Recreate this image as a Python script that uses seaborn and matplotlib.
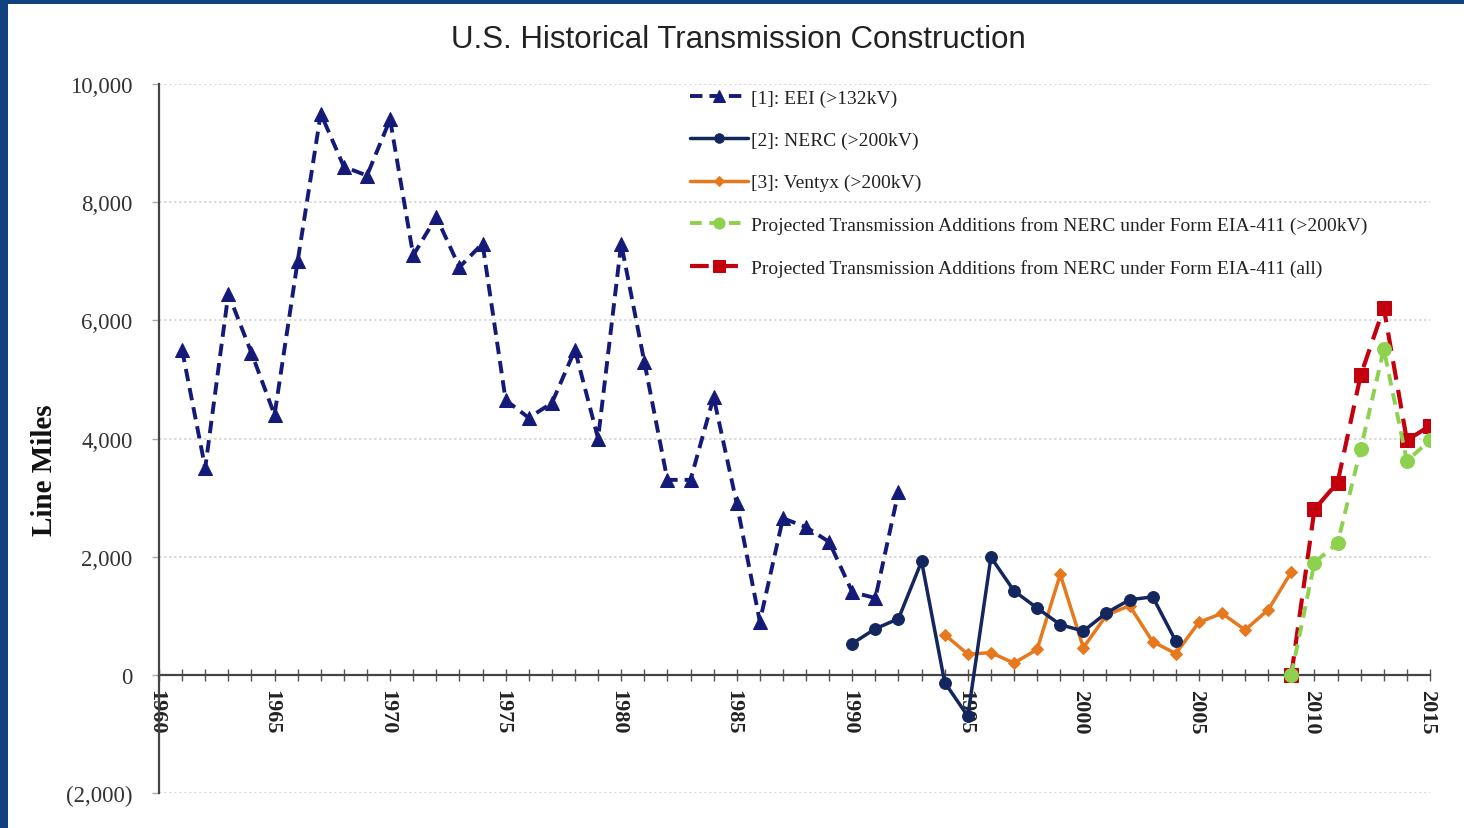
import matplotlib
matplotlib.use("Agg")
import matplotlib.pyplot as plt
import matplotlib.transforms as mtransforms
from matplotlib.patches import Rectangle
import seaborn as sns

# ---------------- data ----------------
eei_years = list(range(1961, 1993))
eei_miles = [5500, 3500, 6450, 5450, 4400, 7000, 9500, 8600, 8450, 9400,
             7100, 7750, 6900, 7300, 4650, 4350, 4600, 5500, 4000, 7300,
             5300, 3300, 3300, 4700, 2900, 900, 2650, 2500, 2250, 1400,
             1300, 3100]

nerc_years = list(range(1990, 2005))
nerc_miles = [530, 780, 950, 1920, -130, -700, 1990, 1420, 1130, 850,
              740, 1050, 1270, 1320, 570]

ventyx_years = list(range(1994, 2010))
ventyx_miles = [680, 350, 375, 200, 430, 1700, 460, 1010, 1170, 560,
                360, 890, 1040, 760, 1100, 1740]

proj_years = list(range(2009, 2016))
proj200_miles = [0, 1900, 2230, 3820, 5510, 3620, 3970]
projall_miles = [0, 2800, 3255, 5070, 6210, 3970, 4215]

labels = ["[1]: EEI (>132kV)",
          "[2]: NERC (>200kV)",
          "[3]: Ventyx (>200kV)",
          "Projected Transmission Additions from NERC under Form EIA-411 (>200kV)",
          "Projected Transmission Additions from NERC under Form EIA-411 (all)"]

title = "U.S. Historical Transmission Construction"
ylabel = "Line Miles"
yticks = [-2000, 0, 2000, 4000, 6000, 8000, 10000]
ytick_labels = ["(2,000)", "0", "2,000", "4,000", "6,000", "8,000", "10,000"]
xticks = list(range(1960, 2016, 5))

# ---------------- style ----------------
sns.set_style("white")
plt.rcParams["font.family"] = ["Liberation Serif", "DejaVu Serif"]

W, H = 1464, 829
fig = plt.figure(figsize=(W / 100, H / 100), dpi=100)
fig.patch.set_facecolor("white")
# blue slide border (left and top)
fig.patches.append(Rectangle((0, 0), 8 / W, 1, transform=fig.transFigure,
                             facecolor="#12427e", edgecolor="none", zorder=0))
fig.patches.append(Rectangle((0, 1 - 5 / H), 1, 5 / H, transform=fig.transFigure,
                             facecolor="#12427e", edgecolor="none", zorder=0))

ax = fig.add_axes([159 / W, 1 - 794 / H, (1430 - 159) / W, (794 - 85) / H])
ax.set_zorder(2)
ax.set_facecolor("none")

navy = "#141a78"
dark_navy = "#13275e"
orange = "#e6781e"
green = "#8dd14f"
red = "#c4000f"

sns.lineplot(x=eei_years, y=eei_miles, ax=ax, color=navy, linewidth=2.8,
             linestyle=(0, (3.2, 1.8)), marker="^", markersize=10.5,
             markeredgecolor=navy, label=labels[0], zorder=4)
sns.lineplot(x=nerc_years, y=nerc_miles, ax=ax, color=dark_navy, linewidth=2.5,
             marker="o", markersize=8.5, markeredgecolor=dark_navy,
             label=labels[1], zorder=5)
sns.lineplot(x=ventyx_years, y=ventyx_miles, ax=ax, color=orange, linewidth=2.5,
             marker="D", markersize=6, markeredgecolor=orange,
             label=labels[2], zorder=4)
sns.lineplot(x=proj_years, y=proj200_miles, ax=ax, color=green, linewidth=2.8,
             linestyle=(0, (3, 2)), marker="o", markersize=10,
             markeredgecolor=green, label=labels[3], zorder=4)
sns.lineplot(x=proj_years, y=projall_miles, ax=ax, color=red, linewidth=3.0,
             linestyle=(0, (4.5, 2.5)), marker="s", markersize=10,
             markeredgecolor=red, label=labels[4], zorder=3)

# ---------------- axes ----------------
ax.spines["bottom"].set_position(("data", 0))
ax.spines["bottom"].set_color("#444444")
ax.spines["bottom"].set_linewidth(1.6)
ax.spines["left"].set_color("#444444")
ax.spines["left"].set_linewidth(1.6)
ax.spines["top"].set_visible(False)
ax.spines["right"].set_visible(False)

ax.set_xlim(1960, 2015)
ax.set_ylim(-2000, 10000)
ax.set_yticks(yticks)
ax.set_yticklabels(ytick_labels)
ax.set_xticks(xticks)
ax.set_xticks(range(1960, 2016), minor=True)
ax.set_xticklabels([str(x) for x in xticks])

ax.tick_params(axis="x", which="both", direction="inout", length=9, width=1.0,
               color="#555555", pad=6, bottom=True)
ax.tick_params(axis="x", which="major", labelsize=16, labelrotation=270,
               labelcolor="#222222")
shift = mtransforms.ScaledTranslation(-3 / 100, 0, fig.dpi_scale_trans)
for lbl in ax.get_xticklabels():
    lbl.set_fontweight("bold")
    lbl.set_va("top")
    lbl.set_ha("center")
    lbl.set_transform(lbl.get_transform() + shift)
ax.tick_params(axis="y", which="major", direction="out", length=5, width=1.0,
               color="#aaaaaa", pad=14, labelsize=16.5, labelcolor="#333333", left=True)

ax.yaxis.grid(True, color="#d5d5d5", linestyle=(0, (1.5, 1.5)), linewidth=1.2)
ax.xaxis.grid(False)
ax.set_axisbelow(True)

ax.set_xlabel("")
ax.set_ylabel("")
fig.text(45 / W, 1 - 470 / H, ylabel, rotation=90, ha="center", va="center",
         fontsize=21, fontweight="bold", color="#111111")

fig.text(738 / W, 1 - 40 / H, title, ha="center", va="center", fontsize=22.5,
         color="#222222", family=["Liberation Sans Narrow", "Liberation Sans", "DejaVu Sans"])

leg = ax.legend(loc="upper left", bbox_to_anchor=(690 / W, 1 - 90 / H),
                bbox_transform=fig.transFigure, frameon=False, fontsize=14,
                handlelength=3.0, handletextpad=0.12, labelspacing=1.27,
                borderpad=0, borderaxespad=0, markerscale=0.8)
for t in leg.get_texts():
    t.set_color("#222222")

fig.savefig("out.png", dpi=100, facecolor=fig.get_facecolor())
